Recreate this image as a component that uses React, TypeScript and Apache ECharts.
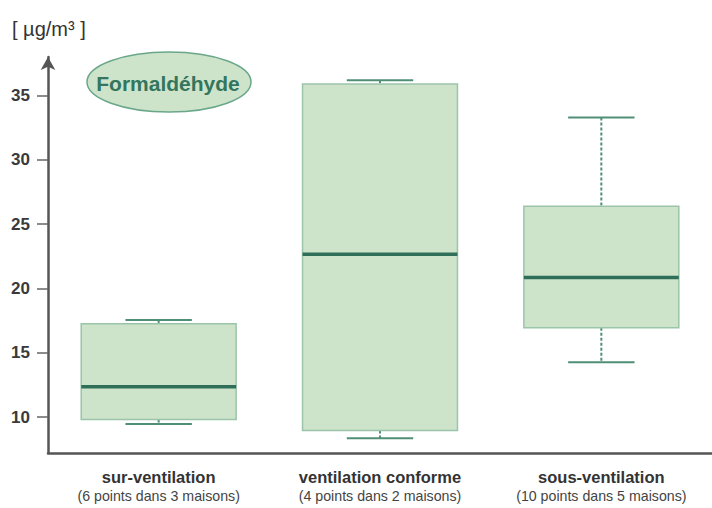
import React, { useEffect, useRef } from "react";
import * as echarts from "echarts";

const categories = ["sur-ventilation", "ventilation conforme", "sous-ventilation"];
const subLabels = ["(6 points dans 3 maisons)", "(4 points dans 2 maisons)", "(10 points dans 5 maisons)"];
const lows = [9.45, 8.35, 14.25];
const q1s = [9.8, 8.95, 16.95];
const medians = [12.35, 22.65, 20.85];
const q3s = [17.25, 35.9, 26.4];
const highs = [17.55, 36.2, 33.3];
const yTicks = [10, 15, 20, 25, 30, 35];
const unitLabel = "[ µg/m³ ]";
const badge = "Formaldéhyde";

const SANS = "'Liberation Sans', Arial, Helvetica, sans-serif";

export default function App() {
  const ref = useRef<HTMLDivElement>(null);
  useEffect(() => {
    const chart = echarts.init(ref.current!, null, { renderer: "svg" });
    const data = categories.map((_, i) => [i, lows[i], q1s[i], medians[i], q3s[i], highs[i]]);
    const option: any = {
      animation: false,
      backgroundColor: "#ffffff",
      grid: { left: 48, width: 670, top: 57, bottom: 55, containLabel: false },
      xAxis: {
        type: "category",
        data: categories,
        boundaryGap: true,
        axisLine: { lineStyle: { color: "#555555", width: 2.5 } },
        axisTick: { alignWithLabel: true, length: 7, lineStyle: { color: "#777777", width: 1.5 } },
        axisLabel: {
          margin: 14,
          interval: 0,
          formatter: (v: string, i: number) => `{a|${v}}\n{b|${subLabels[i]}}`,
          rich: {
            a: { fontFamily: SANS, fontWeight: "bold", fontSize: 16.5, color: "#333333", lineHeight: 20 },
            b: { fontFamily: SANS, fontSize: 14.2, color: "#444444", lineHeight: 18 },
          },
        },
        splitLine: { show: false },
      },
      yAxis: {
        type: "value",
        min: 7.2,
        max: 38.0,
        axisLine: {
          show: true,
          symbol: ["none", "arrow"],
          symbolSize: [11, 13],
          lineStyle: { color: "#555555", width: 2.5 },
        },
        axisTick: { show: true, length: 11, customValues: yTicks, lineStyle: { color: "#666666", width: 1.5 } },
        axisLabel: {
          customValues: yTicks,
          margin: 18,
          fontFamily: SANS,
          fontWeight: "bold",
          fontSize: 17,
          color: "#3a3a3a",
        },
        splitLine: { show: false },
      },
      graphic: [
        {
          type: "text",
          left: 12,
          top: 19,
          style: { text: unitLabel, font: `20px ${SANS}`, fill: "#333333" },
        },
        {
          type: "ellipse",
          shape: { cx: 169, cy: 82, rx: 82, ry: 30 },
          style: { fill: "#cde4cb", stroke: "#6aa78a", lineWidth: 1.5 },
          z: 10,
        },
        {
          type: "text",
          x: 168,
          y: 83,
          style: {
            text: badge,
            font: `bold 21px ${SANS}`,
            fill: "#33755d",
            align: "center",
            verticalAlign: "middle",
          },
          z: 11,
        },
      ],
      series: [
        {
          type: "custom",
          data,
          encode: { x: 0, y: [1, 2, 3, 4, 5] },
          renderItem: (params: any, api: any) => {
            const idx = api.value(0);
            const pLow = api.coord([idx, api.value(1)]);
            const pQ1 = api.coord([idx, api.value(2)]);
            const pMed = api.coord([idx, api.value(3)]);
            const pQ3 = api.coord([idx, api.value(4)]);
            const pHigh = api.coord([idx, api.value(5)]);
            const band = api.size([1, 0])[0];
            const bw = band * 0.7;
            const cw = band * 0.3;
            const cx = pMed[0];
            const whisk = { stroke: "#4f8f76", lineWidth: 2 };
            const dashed = { stroke: "#4f8f76", lineWidth: 2, lineDash: [3, 2] };
            return {
              type: "group",
              children: [
                { type: "line", shape: { x1: cx, y1: pHigh[1], x2: cx, y2: pQ3[1] }, style: dashed },
                { type: "line", shape: { x1: cx, y1: pQ1[1], x2: cx, y2: pLow[1] }, style: dashed },
                { type: "line", shape: { x1: cx - cw / 2, y1: pHigh[1], x2: cx + cw / 2, y2: pHigh[1] }, style: whisk },
                { type: "line", shape: { x1: cx - cw / 2, y1: pLow[1], x2: cx + cw / 2, y2: pLow[1] }, style: whisk },
                {
                  type: "rect",
                  shape: { x: cx - bw / 2, y: pQ3[1], width: bw, height: pQ1[1] - pQ3[1] },
                  style: { fill: "#cde4cb", stroke: "#9cc4aa", lineWidth: 1.5 },
                },
                {
                  type: "line",
                  shape: { x1: cx - bw / 2, y1: pMed[1], x2: cx + bw / 2, y2: pMed[1] },
                  style: { stroke: "#2f6e58", lineWidth: 3.5 },
                },
              ],
            };
          },
        },
      ],
    };
    chart.setOption(option);
    return () => chart.dispose();
  }, []);
  return (
    <div
      ref={ref}
      style={{ position: "fixed", left: 0, top: 0, width: 712, height: 508, background: "#fff" }}
    />
  );
}
